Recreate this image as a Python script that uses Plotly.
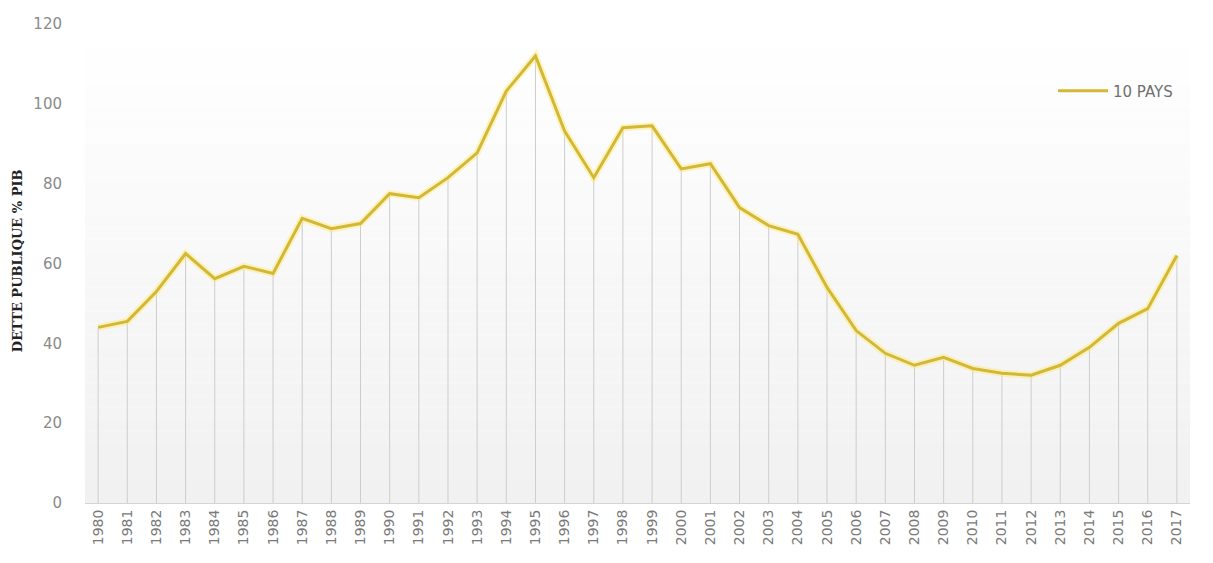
import plotly.graph_objects as go

# Dette publique (% du PIB), moyenne des 10 pays
years = [str(y) for y in range(1980, 2018)]
dette = [44, 45.5, 53, 62.5, 56.2, 59.3, 57.5, 71.3, 68.7, 70,
         77.5, 76.5, 81.5, 87.7, 103.2, 112, 93.2, 81.5, 94, 94.5,
         83.7, 85, 74, 69.5, 67.3, 54, 43.2, 37.5, 34.5, 36.5,
         33.7, 32.5, 32, 34.5, 39, 45, 48.7, 62]
y_ticks = [0, 20, 40, 60, 80, 100, 120]

LINE_COLOR = "#D4B734"

fig = go.Figure()

# soft vertical gradient behind the plot area (white at top, light grey at bottom)
n_bands = 40
for i in range(n_bands):
    t = i / (n_bands - 1)
    g = int(round(241 + (255 - 241) * t))
    fig.add_shape(type="rect", xref="paper", yref="paper",
                  x0=0, x1=1, y0=i / n_bands, y1=(i + 1) / n_bands,
                  fillcolor=f"rgb({g},{g},{g})", line_width=0, layer="below")

# drop lines from each point down to the axis
drop_x, drop_y = [], []
for yr, v in zip(years, dette):
    drop_x += [yr, yr, None]
    drop_y += [0, v, None]
fig.add_trace(go.Scatter(x=drop_x, y=drop_y, mode="lines",
                         line=dict(color="#cdcdcd", width=1),
                         hoverinfo="skip", showlegend=False))

# glow under the main line
fig.add_trace(go.Scatter(x=years, y=dette, mode="lines",
                         line=dict(color="rgba(250,235,120,0.45)", width=7),
                         hoverinfo="skip", showlegend=False))
fig.add_trace(go.Scatter(x=years, y=dette, mode="lines", name="10 PAYS",
                         line=dict(color=LINE_COLOR, width=3)))

fig.update_layout(
    width=1213, height=563,
    margin=dict(l=85, r=23, t=24, b=60),
    paper_bgcolor="white", plot_bgcolor="rgba(0,0,0,0)",
    font=dict(family="DejaVu Sans, sans-serif", color="#8a8a8a", size=14),
    showlegend=True,
    legend=dict(x=0.876, y=0.86, xanchor="left", yanchor="middle",
                bgcolor="rgba(0,0,0,0)", font=dict(size=15, color="#707070"),
                itemwidth=50),
    xaxis=dict(type="category", tickangle=-90, showgrid=False,
               showline=True, linecolor="#d4d4d4", linewidth=1,
               ticks="", tickfont=dict(size=14, color="#7a7a7a"),
               range=[-0.45, len(years) - 0.55]),
    yaxis=dict(range=[0, 120], tickvals=y_ticks, showgrid=False,
               zeroline=False, showline=False, ticks="",
               ticklabelstandoff=22, tickfont=dict(size=15, color="#8a8a8a")),
    annotations=[dict(text="<b>DETTE PUBLIQUE % PIB</b>", xref="paper", yref="paper",
                      x=-0.0615, y=0.505, textangle=-90, showarrow=False,
                      xanchor="center", yanchor="middle",
                      font=dict(family="DejaVu Serif, serif", size=13, color="#222222"))],
)

fig.write_html("out.html")
